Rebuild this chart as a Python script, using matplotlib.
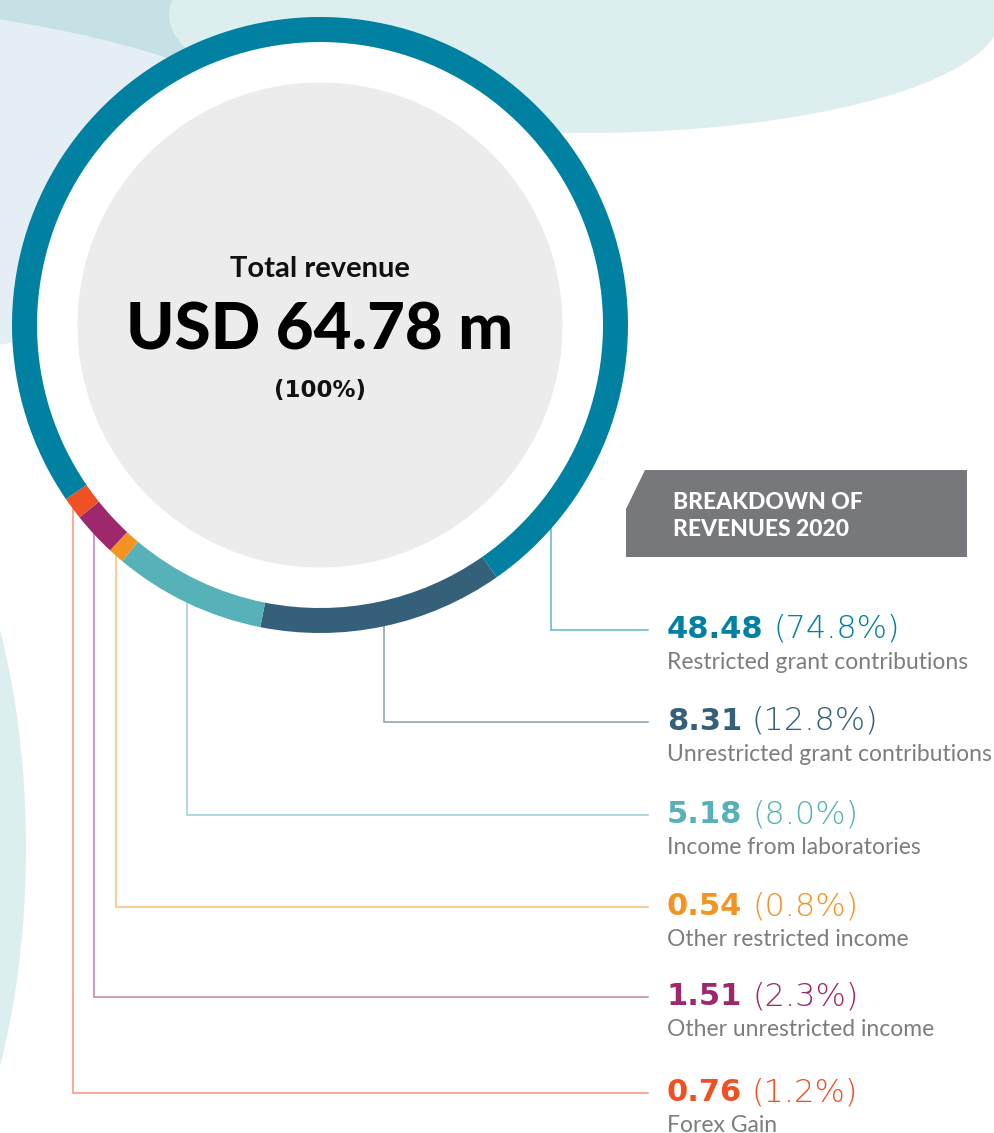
import matplotlib.pyplot as plt
from matplotlib.patches import Ellipse, Circle, Polygon
import numpy as np

W, H = 995, 1133

# revenue items, in clockwise ring order starting at the lower right
categories = ['Unrestricted grant contributions', 'Income from laboratories',
              'Other restricted income', 'Other unrestricted income',
              'Forex Gain', 'Restricted grant contributions']
values = [8.31, 5.18, 0.54, 1.51, 0.76, 48.48]
shares = [12.8, 8.0, 0.8, 2.3, 1.2, 74.8]
colors = ['#35607a', '#56b1b8', '#f39422', '#9d286c', '#ef5124', '#0081a1']

# legend rows from top to bottom (index into the lists above)
label_order = [5, 0, 1, 2, 3, 4]
row_y = [630, 722, 815, 907, 997, 1093]
# where along each wedge the leader line leaves the ring
anchor_pos = [0.5, 0.5, 0.5, 0.5, 0.5, 0.05]

plt.rcParams['font.family'] = ['Lato', 'DejaVu Sans']
wide = ['DejaVu Sans']


def Y(y):
    return H - y


fig = plt.figure(figsize=(W / 100, H / 100), dpi=100)
ax = fig.add_axes([0, 0, 1, 1])

# background blobs
ax.add_patch(Ellipse((50, Y(-50)), 400, 300, color='#c6e1e5', lw=0, zorder=0))
ax.add_patch(Ellipse((-300, Y(182)), 1260, 370, color='#e5eef5', lw=0, zorder=0.1))
ax.add_patch(Ellipse((585, Y(15)), 832, 236, color='#dcefee', lw=0, zorder=0.2))
ax.add_patch(Ellipse((-150, Y(848)), 352, 834, color='#dcefee', lw=0, zorder=0.2))

cx, cy, R, ring = 320, Y(325), 308, 25

wedges, _ = ax.pie(values, colors=colors, startangle=-55, counterclock=False,
                   radius=R, center=(cx, cy),
                   wedgeprops=dict(width=ring, linewidth=0))
for w in wedges:
    w.set_zorder(3)

ax.add_patch(Circle((cx, cy), R - ring, color='white', lw=0, zorder=1))
ax.add_patch(Circle((cx, cy), 242.5, color='#ececec', lw=0, zorder=1.5))

ax.text(cx, Y(277), 'Total revenue', ha='center', va='baseline',
        fontsize=21, fontweight='bold', color='#111111', zorder=4)
ax.text(cx, Y(350), f'USD {sum(values):.2f} m', ha='center', va='baseline',
        fontsize=47, fontweight='black', color='black', zorder=4)
ax.text(cx, Y(397), '(100%)', ha='center', va='baseline', family=wide,
        fontsize=16.5, fontweight='bold', color='#111111', zorder=4)

# title box with cut corner
box = [(645, 470), (967, 470), (967, 557), (626, 557), (626, 509)]
ax.add_patch(Polygon([(x, Y(y)) for x, y in box], closed=True,
                     color='#77787b', lw=0, zorder=2))
ax.text(673, Y(509), 'BREAKDOWN OF', color='white', fontsize=16.5,
        fontweight='black', va='baseline', zorder=4)
ax.text(673, Y(536), 'REVENUES 2020', color='white', fontsize=16.5,
        fontweight='black', va='baseline', zorder=4)

# leader lines and labels
for i, ly in zip(label_order, row_y):
    w = wedges[i]
    ang = np.radians(w.theta1 + anchor_pos[i] * (w.theta2 - w.theta1))
    ax_x = cx + R * np.cos(ang)
    ax_y = cy + R * np.sin(ang)
    ax.plot([ax_x, ax_x, 648], [ax_y, Y(ly), Y(ly)], color=colors[i],
            alpha=0.6, lw=1.1, zorder=2, solid_joinstyle='miter')

    t = ax.text(667, Y(ly + 8), f'{values[i]:.2f}', color=colors[i], family=wide,
                fontsize=22, fontweight='bold', va='baseline', zorder=4)
    ax.annotate(f'({shares[i]:.1f}%)', xy=(1, Y(ly + 8)), xycoords=(t, 'data'),
                xytext=(7, 0), textcoords='offset points', color=colors[i],
                family=wide, fontsize=23, fontweight='light',
                va='baseline', zorder=4)
    ax.text(667, Y(ly + 39), categories[i], color='#7d7d7d',
            fontsize=16.5, fontweight='normal', va='baseline', zorder=4)

ax.set_xlim(0, W)
ax.set_ylim(0, H)
ax.set_aspect('auto')
ax.axis('off')

fig.savefig('out.png', dpi=100)
